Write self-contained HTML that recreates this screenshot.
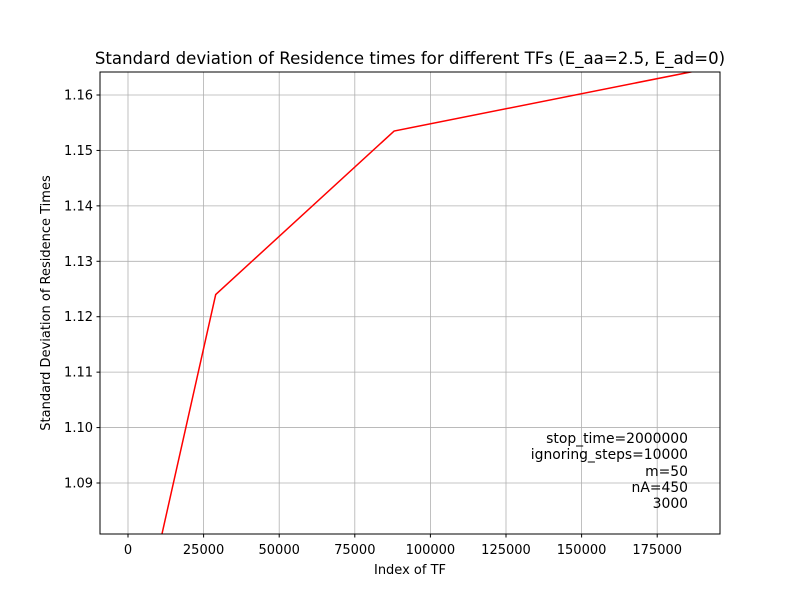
<!DOCTYPE html>
<html><head><meta charset="utf-8"><style>
html,body{margin:0;padding:0;background:#fff;overflow:hidden;width:800px;height:600px;}
svg{display:block;}
svg text{font-family:"DejaVu Sans","Liberation Sans",sans-serif;fill:#000;}
</style></head><body>
<svg id="chart" width="800" height="600" xmlns="http://www.w3.org/2000/svg">
<defs><clipPath id="clip"><rect x="100" y="72" width="620" height="462"/></clipPath></defs>
<g id="grid"></g>
<g id="ticks"></g>
<path id="line" clip-path="url(#clip)" fill="none" stroke="#ff0000" stroke-width="1.5"/>
<rect x="100" y="72" width="620" height="462" fill="none" stroke="#000" stroke-width="1"/>
<text x="410" y="64" font-size="16.6" text-anchor="middle">Standard deviation of Residence times for different TFs (E_aa=2.5, E_ad=0)</text>
<text x="410" y="574" font-size="13" text-anchor="middle">Index of TF</text>
<text transform="translate(50,303) rotate(-90)" font-size="13" text-anchor="middle">Standard Deviation of Residence Times</text>
<g font-size="13.9" text-anchor="end">
<text x="688" y="443">stop_time=2000000</text>
<text x="688" y="459">ignoring_steps=10000</text>
<text x="688" y="476">m=50</text>
<text x="688" y="492">nA=450</text>
<text x="688" y="508">3000</text>
</g>
</svg>
<script>
const xValues=[0,29000,88000,186500];
const yValues=[1.0535,1.124,1.1535,1.1642];
const xTicks=[0,25000,50000,75000,100000,125000,150000,175000];
const yTicks=[1.09,1.10,1.11,1.12,1.13,1.14,1.15,1.16];
const xs=v=>128+(v/25000)*75.6;
const ys=v=>95+(1.16-v)/0.01*55.43;
const NS="http://www.w3.org/2000/svg";
const grid=document.getElementById('grid'),ticks=document.getElementById('ticks');
function mk(tag,attrs,parent){const e=document.createElementNS(NS,tag);for(const k in attrs)e.setAttribute(k,attrs[k]);parent.appendChild(e);return e;}
xTicks.forEach(t=>{const x=xs(t);
const g=mk('line',{x1:x,x2:x,y1:72,y2:534,stroke:'#b0b0b0','stroke-width':0.8},grid);


const tk=mk('line',{x1:x,x2:x,y1:534,y2:537.5,stroke:'#000'},ticks);


const tx=mk('text',{x:x,y:554,'font-size':13,'text-anchor':'middle'},ticks);tx.textContent=t;


});
yTicks.forEach(t=>{const y=ys(t);
const g=mk('line',{x1:100,x2:720,y1:y,y2:y,stroke:'#b0b0b0','stroke-width':0.8},grid);


const tk=mk('line',{x1:96.5,x2:100,y1:y,y2:y,stroke:'#000'},ticks);


const tx=mk('text',{x:93,y:y+4.5,'font-size':13,'text-anchor':'end'},ticks);tx.textContent=t.toFixed(2);


});
document.getElementById('line').setAttribute('d',xValues.map((v,i)=>(i?'L':'M')+xs(v)+','+ys(yValues[i])).join(' '));
</script>
</body></html>
